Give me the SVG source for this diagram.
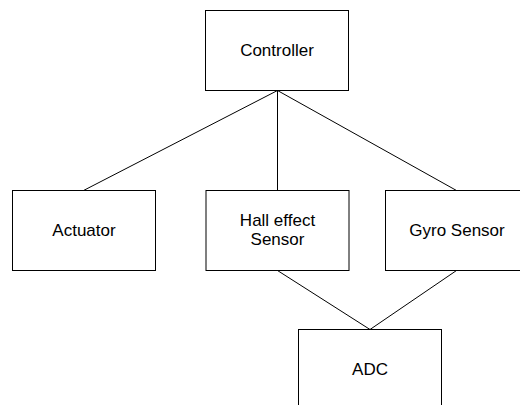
<svg xmlns="http://www.w3.org/2000/svg" width="520" height="405" viewBox="0 0 520 405">
<style>
.box{fill:#fff;stroke:#000;stroke-width:1}
.lbl{font-family:"Liberation Sans",Arial,sans-serif;font-size:17px;fill:#000;text-anchor:middle}
.conn line{stroke:#000;stroke-width:1}
</style>
<rect width="520" height="405" fill="#fff"/>
<g id="connectors" class="conn">
<line x1="277.5" y1="90.5" x2="83.5" y2="190.5"/>
<line x1="277.5" y1="90.5" x2="277.5" y2="190.5"/>
<line x1="277.5" y1="90.5" x2="456.5" y2="190.5"/>
<line x1="277.5" y1="270.5" x2="370" y2="329.5"/>
<line x1="456.5" y1="270.5" x2="370" y2="329.5"/>
</g>
<g id="controller"><rect class="box" x="205.5" y="10.5" width="143" height="80"/><text class="lbl" x="277" y="56">Controller</text></g>
<g id="actuator"><rect class="box" x="12.5" y="190.5" width="143" height="80"/><text class="lbl" x="84" y="236">Actuator</text></g>
<g id="hall"><rect class="box" x="206" y="190.5" width="143" height="80"/><text class="lbl" x="277.5" y="226">Hall effect</text><text class="lbl" x="277.5" y="245">Sensor</text></g>
<g id="gyro"><rect class="box" x="385.5" y="190.5" width="143" height="80"/><text class="lbl" x="457" y="236">Gyro Sensor</text></g>
<g id="adc"><rect class="box" x="298.5" y="329.5" width="143" height="80"/><text class="lbl" x="370" y="375">ADC</text></g>
</svg>
